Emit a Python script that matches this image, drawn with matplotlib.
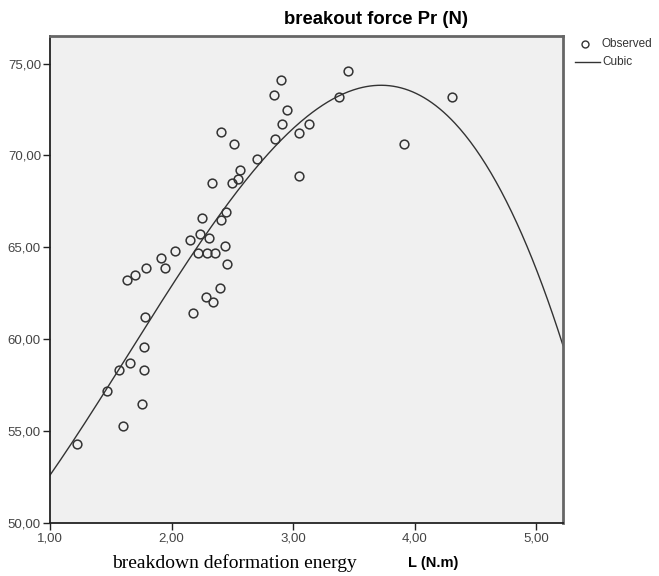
import matplotlib
matplotlib.use("Agg")
import matplotlib.pyplot as plt
import numpy as np
from matplotlib.lines import Line2D
from matplotlib.ticker import FuncFormatter

# observed points: breakdown deformation energy L (N.m)
energy = [1.22, 1.47, 1.57, 1.60, 1.66, 1.76, 1.77, 1.77, 1.78, 1.63,
          1.70, 1.79, 1.91, 1.95, 2.03, 2.15, 2.18, 2.22, 2.23, 2.25,
          2.28, 2.29, 2.31, 2.34, 2.33, 2.36, 2.40, 2.41, 2.41, 2.45,
          2.44, 2.46, 2.50, 2.51, 2.55, 2.56, 2.70, 2.85, 2.84, 2.90,
          2.91, 2.95, 3.05, 3.05, 3.13, 3.38, 3.455, 3.91, 4.31]
# breakout force Pr (N)
force = [54.3, 57.2, 58.3, 55.3, 58.7, 56.5, 58.3, 59.6, 61.2, 63.2,
         63.5, 63.9, 64.4, 63.9, 64.8, 65.4, 61.4, 64.7, 65.7, 66.6,
         62.3, 64.7, 65.5, 62.0, 68.5, 64.7, 62.8, 71.3, 66.5, 66.9,
         65.1, 64.1, 68.5, 70.6, 68.7, 69.2, 69.8, 70.9, 73.3, 74.1,
         71.7, 72.5, 71.2, 68.9, 71.7, 73.2, 74.6, 70.6, 73.2]

x_ticks = [1.0, 2.0, 3.0, 4.0, 5.0]
y_ticks = [50.0, 55.0, 60.0, 65.0, 70.0, 75.0]

W, H = 659, 576
fig = plt.figure(figsize=(W / 100, H / 100), dpi=100)
ax = fig.add_axes([50 / W, 1 - 523 / H, (563 - 50) / W, (523 - 36) / H])
ax.set_facecolor("#f0f0f0")

xmin, xmax = 1.0, 5.22
ymin, ymax = 50.0, 76.5

# cubic fit, as in the SPSS curve estimation output
coef = np.polyfit(energy, force, 3)
xs = np.linspace(xmin, xmax, 400)
ax.plot(xs, np.polyval(coef, xs), color="#333333", lw=1.0, zorder=2)
ax.plot(energy, force, "o", ms=6.3, mfc="none", mec="#333333", mew=1.1,
        zorder=3, clip_on=False)

ax.set_xlim(xmin, xmax)
ax.set_ylim(ymin, ymax)
ax.set_xticks(x_ticks)
ax.set_yticks(y_ticks)
fmt = FuncFormatter(lambda v, p: f"{v:.2f}".replace(".", ","))
ax.xaxis.set_major_formatter(fmt)
ax.yaxis.set_major_formatter(fmt)
ax.tick_params(direction="out", length=5, width=1.0, color="#222222",
               labelsize=9.5, labelcolor="#444444", pad=1.5)
for lab in ax.get_xticklabels() + ax.get_yticklabels():
    lab.set_family("Liberation Sans")

for side in ("top", "right"):
    ax.spines[side].set_color("#666666")
    ax.spines[side].set_linewidth(2.0)
for side in ("left", "bottom"):
    ax.spines[side].set_color("#222222")
    ax.spines[side].set_linewidth(1.3)

fig.text(376 / W, 1 - 20 / H, "breakout force Pr (N)", ha="center", va="center",
         fontsize=13.3, fontweight="bold", family="Liberation Sans")
fig.text(112 / W, 1 - 563 / H, "breakdown deformation energy", ha="left",
         va="center", fontsize=14, family="Liberation Serif")
fig.text(408 / W, 1 - 563 / H, "L (N.m)", ha="left", va="center",
         fontsize=10.5, fontweight="bold", family="Liberation Sans")

# legend drawn at the figure level, to the right of the axes
fig.add_artist(Line2D([585 / W], [1 - 44 / H], marker="o", ms=5, mfc="none",
                      mec="#333333", mew=1.0, transform=fig.transFigure))
fig.add_artist(Line2D([575 / W, 600 / W], [1 - 62 / H, 1 - 62 / H],
                      color="#333333", lw=1.0, transform=fig.transFigure))
fig.text(602 / W, 1 - 44 / H, "Observed", ha="left", va="center", fontsize=8.5,
         family="Liberation Sans", color="#333333")
fig.text(602 / W, 1 - 62 / H, "Cubic", ha="left", va="center", fontsize=8.5,
         family="Liberation Sans", color="#333333")

fig.savefig("out.png", dpi=100)
